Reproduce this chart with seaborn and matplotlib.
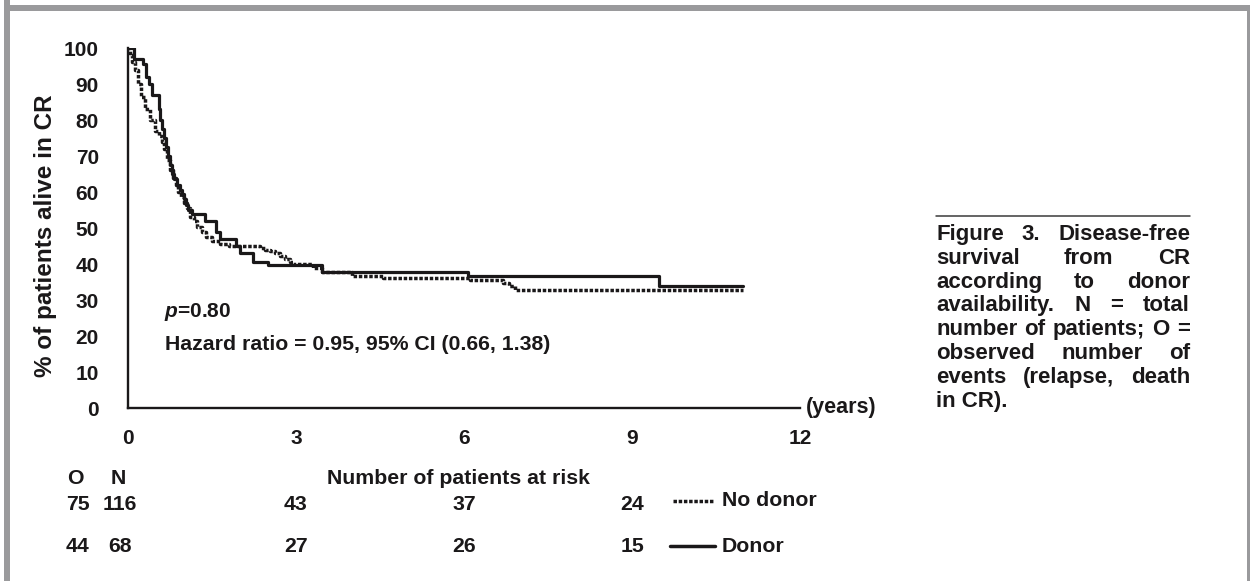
import numpy as np
import pandas as pd
import matplotlib
matplotlib.use("Agg")
import matplotlib.pyplot as plt
import seaborn as sns
from matplotlib.lines import Line2D
from matplotlib.patches import Rectangle
from matplotlib.transforms import blended_transform_factory

# ---------------- data ----------------
donor_t = [0, 0.10, 0.27, 0.32, 0.37, 0.42, 0.55, 0.58, 0.61, 0.64, 0.67, 0.71, 0.75,
           0.79, 0.83, 0.87, 0.92, 0.96, 1.00, 1.04, 1.08, 1.15, 1.375, 1.58, 1.65,
           1.93, 2.00, 2.23, 2.50, 3.46, 6.07, 9.48, 10.98]
donor_s = [100, 97, 95.5, 92, 90, 87, 83, 80, 77.5, 75, 72.5, 70, 67.5,
           65, 63.5, 62, 60.5, 59.5, 58, 56.5, 55, 54, 52, 49, 47,
           45, 43, 40.6, 39.7, 37.9, 36.6, 33.8, 33.8]

nodonor_t = [0, 0.04, 0.08, 0.125, 0.18, 0.23, 0.30, 0.39, 0.48, 0.55, 0.60, 0.65,
             0.70, 0.75, 0.80, 0.85, 0.90, 0.95, 1.00, 1.05, 1.10, 1.17, 1.23, 1.32,
             1.40, 1.50, 1.64, 1.80, 2.36, 2.45, 2.54, 2.62, 2.71, 2.80, 2.89, 2.95,
             3.30, 3.46, 4.00, 4.55, 6.10, 6.70, 6.80, 6.91, 10.98]
nodonor_s = [100, 98, 96, 94, 90, 86.5, 83, 80, 77, 75.5, 74, 72,
             69, 66, 64, 62, 60, 58.5, 57, 55.5, 53, 52, 50.4, 49,
             47.6, 46.5, 45.5, 45, 44.5, 44, 43.5, 43, 42.3, 41.5, 40.6, 39.9,
             38.8, 37.9, 36.7, 36.0, 35.6, 34.8, 34.0, 32.8, 32.8]

x_ticks = [0, 3, 6, 9, 12]
y_ticks = list(range(0, 101, 10))

risk_times = [3, 6, 9]
risk_nodonor = [43, 37, 24]
risk_donor = [27, 26, 15]
obs_nodonor, n_nodonor = 75, 116
obs_donor, n_donor = 44, 68

caption_lines = ["Figure 3. Disease-free", "survival from CR", "according to donor",
                 "availability. N = total", "number of patients; O =",
                 "observed number of", "events (relapse, death", "in CR)."]

# ---------------- style ----------------
sns.set_theme(style="white")
plt.rcParams['font.family'] = ['Liberation Sans', 'DejaVu Sans']
plt.rcParams['font.weight'] = 'bold'
plt.rcParams['mathtext.fontset'] = 'custom'
plt.rcParams['mathtext.it'] = 'Liberation Sans:italic:bold'
plt.rcParams['mathtext.rm'] = 'Liberation Sans:bold'
INK = '#1a1819'

W, H = 1250, 581
fig = plt.figure(figsize=(W / 100, H / 100), dpi=100)
fig.patch.set_facecolor('white')

def fx(px):
    return px / W

def fy(py):
    return 1 - py / H

ax_l, ax_r, ax_t, ax_b = 128, 800, 48, 408
ax = fig.add_axes([fx(ax_l), fy(ax_b), (ax_r - ax_l) / W, (ax_b - ax_t) / H])
ax.set_facecolor('none')

df_d = pd.DataFrame({'t': donor_t, 's': donor_s})
df_n = pd.DataFrame({'t': nodonor_t, 's': nodonor_s})

DOT = (0, (1.0, 0.5))
sns.lineplot(data=df_n, x='t', y='s', ax=ax, estimator=None, sort=False, color=INK,
             drawstyle='steps-post', linewidth=2.5, dashes=False,
             linestyle=DOT, dash_capstyle='butt', legend=False)
sns.lineplot(data=df_d, x='t', y='s', ax=ax, estimator=None, sort=False, color=INK,
             drawstyle='steps-post', linewidth=2.3, legend=False)

ax.set_xlim(0, 12)
ax.set_ylim(0, 100)
ax.set_xticks(x_ticks)
ax.set_yticks(y_ticks)
ax.set_xlabel('')
ax.set_ylabel('')
for sp in ['top', 'right']:
    ax.spines[sp].set_visible(False)
for sp in ['left', 'bottom']:
    ax.spines[sp].set_color(INK)
    ax.spines[sp].set_linewidth(1.7)
ax.tick_params(axis='both', direction='out', length=4, width=1, color=INK,
               labelsize=15, labelcolor=INK)
ax.tick_params(axis='y', pad=17)
ax.tick_params(axis='x', pad=11)
for lab in ax.get_xticklabels() + ax.get_yticklabels():
    lab.set_fontweight('bold')

ax.annotate('(years)', xy=(12, 0), xytext=(4, 0), textcoords='offset points',
            ha='left', va='center', fontsize=15.5, fontweight='bold', color=INK,
            annotation_clip=False)

fig.text(fx(46), fy(236), '% of patients alive in CR', rotation=90, ha='center',
         va='center', fontsize=17.5, fontweight='bold', color=INK)

fig.text(fx(164), fy(317), r'$\mathit{p}$=0.80', ha='left', va='baseline',
         fontsize=15, fontweight='bold', color=INK)
fig.text(fx(165), fy(350), 'Hazard ratio = 0.95, 95% CI (0.66, 1.38)', ha='left',
         va='baseline', fontsize=15.3, fontweight='bold', color=INK)

# ---------------- number at risk table ----------------
tk = dict(fontsize=15.3, fontweight='bold', color=INK, va='center')
fig.text(fx(75), fy(478), 'O', ha='center', **tk)
fig.text(fx(118), fy(478), 'N', ha='center', **tk)
fig.text(fx(458), fy(478), 'Number of patients at risk', ha='center', **tk)
fig.text(fx(78), fy(504), str(obs_nodonor), ha='center', **tk)
fig.text(fx(120), fy(504), str(n_nodonor), ha='center', **tk)
fig.text(fx(78), fy(546), str(obs_donor), ha='center', **tk)
fig.text(fx(120), fy(546), str(n_donor), ha='center', **tk)
btr = blended_transform_factory(ax.transData, fig.transFigure)
for t, a, b in zip(risk_times, risk_nodonor, risk_donor):
    ax.text(t, fy(504), str(a), ha='center', transform=btr, clip_on=False, **tk)
    ax.text(t, fy(546), str(b), ha='center', transform=btr, clip_on=False, **tk)

# legend
fig.add_artist(Line2D([fx(673), fx(713)], [fy(501), fy(501)], color=INK, linewidth=2.5,
                      linestyle=DOT, dash_capstyle='butt'))
fig.add_artist(Line2D([fx(670), fx(715)], [fy(546), fy(546)], color=INK, linewidth=2.5))
fig.text(fx(722), fy(501), 'No donor', ha='left', **tk)
fig.text(fx(722), fy(546), 'Donor', ha='left', **tk)

# ---------------- caption (justified) ----------------
fig.add_artist(Line2D([fx(936), fx(1190)], [fy(216), fy(216)], color='#3a3a3a', linewidth=1.1))
renderer = fig.canvas.get_renderer()
cap_left, cap_right = 936, 1190
cap_kw = dict(fontsize=16, fontweight='bold', color=INK, va='baseline')
for i, line in enumerate(caption_lines):
    base = 240 + i * 23.8
    words = line.split(' ')
    if i == len(caption_lines) - 1 or len(words) == 1:
        fig.text(fx(cap_left), fy(base), line, ha='left', **cap_kw)
        continue
    widths = []
    for w in words:
        tt = fig.text(0, 0, w, **cap_kw)
        widths.append(tt.get_window_extent(renderer=renderer).width)
        tt.remove()
    gap = (cap_right - cap_left - sum(widths)) / (len(words) - 1)
    x = cap_left
    for w, wd in zip(words, widths):
        fig.text(fx(x), fy(base), w, ha='left', **cap_kw)
        x += wd + gap

# ---------------- page frame ----------------
frame_c = '#9a9a9c'
fig.add_artist(Rectangle((fx(4), 0), fx(6), 1, transform=fig.transFigure,
                         facecolor=frame_c, edgecolor='none'))
fig.add_artist(Rectangle((fx(4), fy(11)), 1, 6 / H, transform=fig.transFigure,
                         facecolor=frame_c, edgecolor='none'))
fig.add_artist(Rectangle((fx(1247), 0), fx(3), fy(5), transform=fig.transFigure,
                         facecolor=frame_c, edgecolor='none'))

fig.savefig('out.png', dpi=100, facecolor='white')
